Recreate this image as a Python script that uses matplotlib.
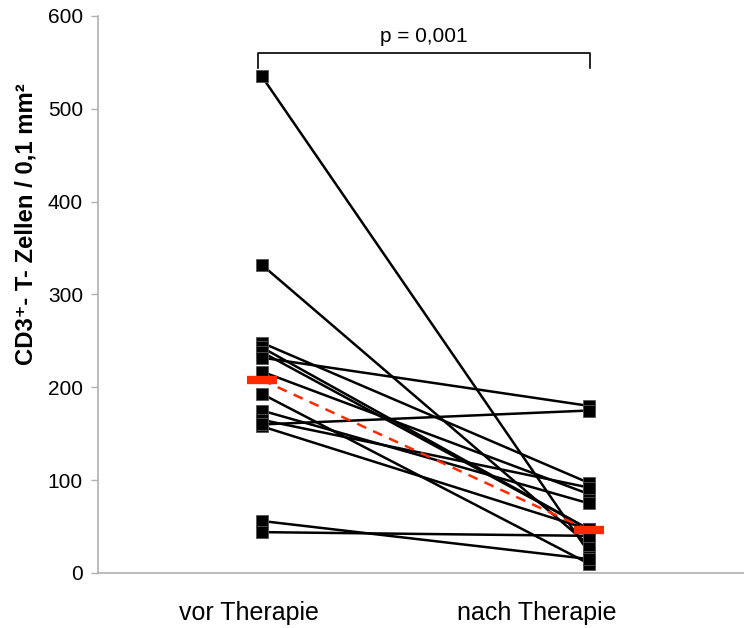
import matplotlib
matplotlib.use("Agg")
import matplotlib.pyplot as plt
import matplotlib.transforms as mtransforms
import numpy as np

plt.rcParams['font.family'] = ['Liberation Sans', 'DejaVu Sans']

categories = ["vor Therapie", "nach Therapie"]
vor = [535, 332, 248, 243, 238, 232, 217, 193, 175, 165, 158, 160, 56, 44]
nach = [22, 30, 97, 47, 47, 180, 85, 10, 75, 92, 47, 175, 15, 40]
median_vor = 208
median_nach = 46
p_text = "p = 0,001"
yticks = [0, 100, 200, 300, 400, 500, 600]

fig = plt.figure(figsize=(7.44, 6.28), dpi=100)
ax = fig.add_axes([0.132, 0.0876, 0.868, 0.887])

x = np.arange(len(categories))
for a, b in zip(vor, nach):
    ax.plot(x, [a, b], color='black', lw=1.8, marker='s', markersize=8.5,
            markerfacecolor='black', markeredgecolor='#555555', markeredgewidth=0.6,
            zorder=3)

ax.plot(x, [median_vor, median_nach], color='#ff2a00', lw=1.8, ls=(0, (4, 3)), zorder=4)
ax.plot(x, [median_vor, median_nach], ls='none', marker='_', markersize=22,
        markeredgewidth=6, color='#ff2a00', zorder=5)

# significance bracket
yb, yt = 544, 560
ax.plot([x[0] - 0.012, x[0] - 0.012, x[1] + 0.003, x[1] + 0.003], [yb, yt, yt, yb],
        color='black', lw=1.2, clip_on=False)
ax.text((x[0] + x[1]) / 2 - 0.005, 572, p_text, ha='center', va='baseline', fontsize=15)

ax.set_xlim(-0.5, 1.474)
ax.set_ylim(0, 600)
ax.set_yticks(yticks)
ax.set_xticks(x)
ax.set_xticklabels(categories, fontsize=18)
ax.tick_params(axis='x', length=0, pad=20)
ax.tick_params(axis='y', length=5, width=1, color='#b0b0b0', labelsize=15, pad=6)

# shift category labels like the reference (Excel-style placement), in pixels/dpi
shifts = [-13 / 100, -52 / 100]
for lab, dx in zip(ax.get_xticklabels(), shifts):
    lab.set_transform(lab.get_transform() +
                      mtransforms.ScaledTranslation(dx, 0, fig.dpi_scale_trans))

for s in ['top', 'right']:
    ax.spines[s].set_visible(False)
for s in ['left', 'bottom']:
    ax.spines[s].set_color('#b0b0b0')
    ax.spines[s].set_linewidth(1.2)

ax.set_ylabel("CD3⁺- T- Zellen / 0,1 mm²", fontsize=17.2, fontweight='bold')
ax.yaxis.set_label_coords(-0.094, 0.627)

fig.savefig("out.png", dpi=100)
